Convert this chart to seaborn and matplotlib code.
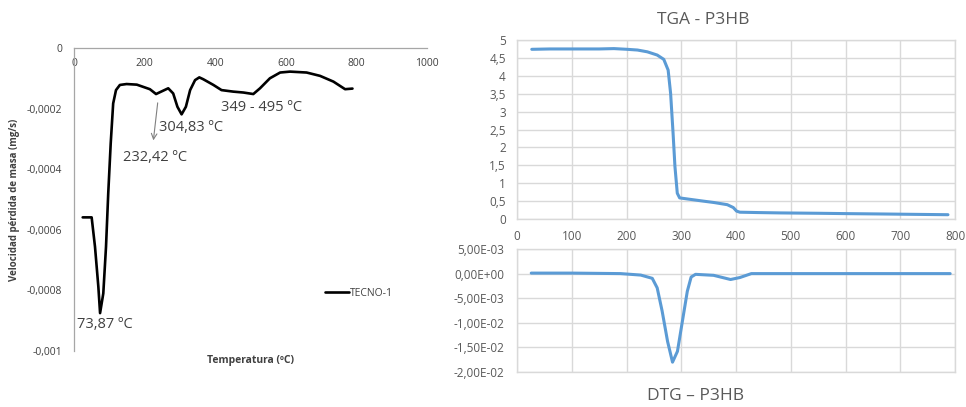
import matplotlib
matplotlib.use("Agg")
import matplotlib.pyplot as plt
from matplotlib.ticker import FuncFormatter, MultipleLocator
import pandas as pd
import seaborn as sns

# TECNO-1: mass-loss rate (mg/s) vs temperature (ºC)
tecno_temp = [24.6, 50, 59.5, 69, 73.87, 83, 90.7, 97, 104, 111, 119, 130, 149,
              178, 215, 232.42, 267, 281, 293, 304.83, 317, 329, 343, 355, 366,
              395, 418, 451, 480, 508, 527, 555, 584, 612, 659, 697, 735, 768,
              789]
tecno_rate = [-0.000559, -0.000559, -0.000656, -0.000788, -0.000875, -0.000810,
              -0.000656, -0.000480, -0.000315, -0.000183, -0.000139, -0.000122,
              -0.000119, -0.000121, -0.000136, -0.000152, -0.000133, -0.000150,
              -0.000194, -0.000219, -0.000194, -0.000139, -0.000106, -0.000097,
              -0.000103, -0.000122, -0.000139, -0.000144, -0.000147, -0.000152,
              -0.000133, -0.000100, -0.000081, -0.000078, -0.000081, -0.000092,
              -0.000111, -0.000136, -0.000134]

# P3HB thermogravimetry: mass (mg) vs temperature (ºC)
tga_temp = [27, 60, 100, 150, 177, 201, 220, 238, 256, 268, 276, 280.5, 285,
            288.4, 292.7, 297, 311, 340, 360, 384, 395, 401, 407, 440, 482,
            550, 604, 670, 726, 787]
tga_mass = [4.74, 4.75, 4.75, 4.75, 4.76, 4.74, 4.72, 4.67, 4.58, 4.46, 4.16,
            3.51, 2.40, 1.47, 0.72, 0.59, 0.56, 0.50, 0.46, 0.40, 0.32, 0.22,
            0.19, 0.18, 0.17, 0.16, 0.15, 0.14, 0.13, 0.12]

# P3HB derivative thermogravimetry
dtg_temp = [26, 100, 189, 226, 247, 256, 265, 275, 284, 293, 302, 311, 318,
            326, 359, 390, 407, 428, 500, 600, 700, 791]
dtg_rate = [0.0001, 0.0001, 0.0, -0.0003, -0.00096, -0.0029, -0.0076, -0.0138,
            -0.0180, -0.0158, -0.0097, -0.0036, -0.0007, -0.00015, -0.00035,
            -0.0012, -0.0008, 0.0, 0.0, 0.0, 0.0, 0.0]

peak_labels = ["73,87 ºC", "232,42 ºC", "304,83 ºC", "349 - 495 ºC"]

sns.set_style("white")
plt.rcParams["font.family"] = ["Open Sans", "DejaVu Sans"]

GREY_TXT = "#595959"
DARK_TXT = "#404040"
GRID = "#d9d9d9"
BLUE = "#5b9bd5"

fig = plt.figure(figsize=(9.66, 4.07), dpi=100)

# ---------------- left: TECNO-1 rate curve ----------------
ax1 = fig.add_axes([0.0766, 0.1376, 0.3654, 0.7445])
df1 = pd.DataFrame({"T": tecno_temp, "v": tecno_rate})
sns.lineplot(data=df1, x="T", y="v", ax=ax1, color="black", lw=1.9,
             estimator=None, sort=False, label="TECNO-1")
ax1.lines[0].set_solid_joinstyle("round")
ax1.set_xlim(0, 1000)
ax1.set_ylim(-0.001, 0)
ax1.xaxis.set_major_locator(MultipleLocator(200))
ax1.yaxis.set_major_locator(MultipleLocator(0.0002))


def rate_fmt(v, _):
    v = round(v, 6)
    if v == 0:
        return "0"
    return f"{v:.4f}".rstrip("0").replace(".", ",")


ax1.yaxis.set_major_formatter(FuncFormatter(rate_fmt))
ax1.xaxis.set_ticks_position("top")
ax1.tick_params(axis="x", top=True, labeltop=True, bottom=False,
                labelbottom=False, length=0, pad=-15, labelsize=7.5,
                colors=DARK_TXT)
ax1.tick_params(axis="y", length=0, pad=8.5, labelsize=7.5, colors=DARK_TXT)
for side in ("right", "bottom"):
    ax1.spines[side].set_visible(False)
for side in ("top", "left"):
    ax1.spines[side].set_color("#a6a6a6")
    ax1.spines[side].set_linewidth(0.9)

ax1.set_ylabel("Velocidad pérdida de masa (mg/s)", fontsize=7,
               fontweight="bold", color=DARK_TXT)
ax1.yaxis.set_label_coords(-0.152, 0.5)
ax1.set_xlabel("Temperatura (ºC)", fontsize=7.5, fontweight="bold",
               color=DARK_TXT)
ax1.xaxis.set_label_coords(0.5, -0.012)

label_spots = [(88, -0.000914), (229, -0.000363), (331, -0.000264),
               (530, -0.000195)]
for txt, (lx, ly) in zip(peak_labels, label_spots):
    ax1.text(lx, ly, txt, ha="center", va="center", fontsize=10.5,
             color=DARK_TXT)
ax1.annotate("", xy=(224, -0.000314), xytext=(238, -0.000172),
             arrowprops=dict(arrowstyle="->", color="#808080", lw=0.8))

leg = ax1.legend(loc="center left", bbox_to_anchor=(0.711, 0.191),
                 frameon=False, handlelength=2.3, handletextpad=0.1,
                 borderpad=0, borderaxespad=0, fontsize=7.5)
for t in leg.get_texts():
    t.set_color(DARK_TXT)


# ---------------- right: TGA / DTG ----------------
def excel_style(ax):
    ax.grid(True, color=GRID, lw=1)
    for s in ax.spines.values():
        s.set_color(GRID)
        s.set_linewidth(1)
    ax.set_xlabel("")
    ax.set_ylabel("")
    ax.set_axisbelow(True)


ax2 = fig.add_axes([0.5352, 0.4619, 0.4535, 0.4398])
df2 = pd.DataFrame({"T": tga_temp, "m": tga_mass})
sns.lineplot(data=df2, x="T", y="m", ax=ax2, color=BLUE, lw=2.2,
             estimator=None, sort=False)
ax2.set_xlim(0, 800)
ax2.set_ylim(0, 5)
ax2.xaxis.set_major_locator(MultipleLocator(100))
ax2.yaxis.set_major_locator(MultipleLocator(0.5))
ax2.yaxis.set_major_formatter(FuncFormatter(
    lambda v, _: f"{v:g}".replace(".", ",")))
ax2.tick_params(axis="x", length=0, pad=8, labelsize=8.5, colors=GREY_TXT)
ax2.tick_params(axis="y", length=0, pad=8, labelsize=8.5, colors=GREY_TXT)
excel_style(ax2)

ax3 = fig.add_axes([0.5352, 0.086, 0.4535, 0.3022])
df3 = pd.DataFrame({"T": dtg_temp, "d": dtg_rate})
sns.lineplot(data=df3, x="T", y="d", ax=ax3, color=BLUE, lw=2.2,
             estimator=None, sort=False)
ax3.set_xlim(0, 800)
ax3.set_ylim(-0.02, 0.005)
ax3.xaxis.set_major_locator(MultipleLocator(100))
ax3.yaxis.set_major_locator(MultipleLocator(0.005))
ax3.yaxis.set_major_formatter(FuncFormatter(
    lambda v, _: f"{round(v, 6) + 0.0:.2E}".replace(".", ",")))
ax3.tick_params(axis="x", length=0, labelbottom=False)
ax3.tick_params(axis="y", length=0, pad=9, labelsize=8.5, colors=GREY_TXT)
excel_style(ax3)

fig.text(703 / 966, 1 - 20 / 407, "TGA - P3HB", ha="center", va="center",
         fontsize=12.5, color=GREY_TXT)
fig.text(696 / 966, 1 - 396 / 407, "DTG – P3HB", ha="center", va="center",
         fontsize=12.5, color=GREY_TXT)

fig.savefig("out.png", dpi=100)
